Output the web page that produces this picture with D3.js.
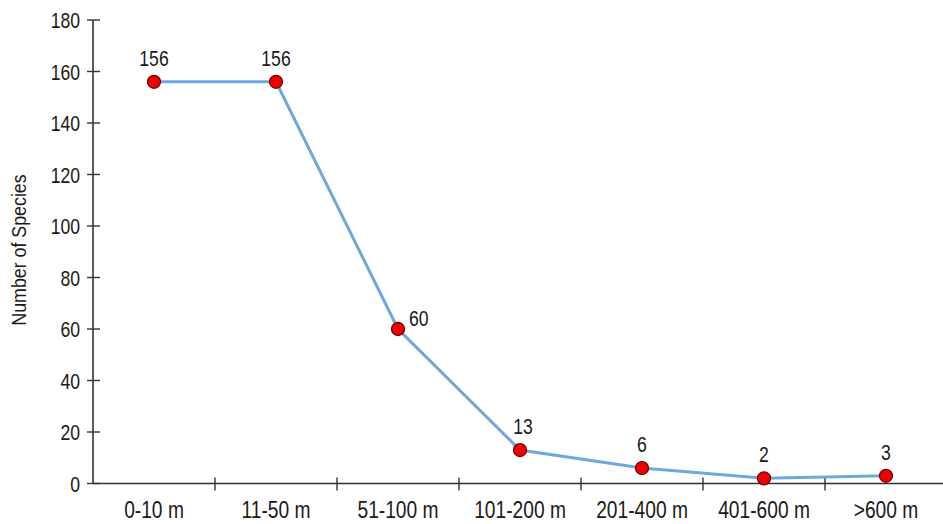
<!DOCTYPE html>
<html>
<head>
<meta charset="utf-8">
<script src="https://cdn.jsdelivr.net/npm/d3@7"></script>
<style>
  html, body { margin: 0; padding: 0; background: #fff; }
  svg { display: block; }
  text { font-family: Arial, "Liberation Sans", Helvetica, sans-serif; font-weight: normal; fill: #1a1a1a; }
</style>
</head>
<body>
<svg id="chart" width="943" height="524"></svg>
<script>
const categories = ["0-10 m", "11-50 m", "51-100 m", "101-200 m", "201-400 m", "401-600 m", ">600 m"];
const speciesCounts = [156, 156, 60, 13, 6, 2, 3];
const yTicks = [0, 20, 40, 60, 80, 100, 120, 140, 160, 180];
const yLabel = "Number of Species";

const W = 943, H = 524;
const svg = d3.select("#chart");

const x = d3.scaleBand().domain(categories).range([93, 947]).padding(0);
const y = d3.scaleLinear().domain([0, 180]).range([483.5, 20]);
const cx = d => x(d) + x.bandwidth() / 2;

// text drawn with a vertical stretch, as in the reference image
function stretchedText(g, tx, ty, str, anchor, size, sy) {
  return g.append("text")
    .attr("transform", `translate(${tx},${ty}) scale(1,${sy})`)
    .attr("text-anchor", anchor)
    .style("font-size", size + "px")
    .text(str);
}

const axisColor = "#333";

// Y axis
const gy = svg.append("g");
gy.append("line").attr("x1", 93).attr("x2", 93).attr("y1", y(180)).attr("y2", y(0))
  .attr("stroke", axisColor).attr("stroke-width", 1.6);
yTicks.forEach(t => {
  gy.append("line").attr("x1", 87).attr("x2", 100).attr("y1", y(t)).attr("y2", y(t))
    .attr("stroke", axisColor).attr("stroke-width", 1.4);
  stretchedText(gy, 80, y(t) + 8, String(t), "end", 17.6, 1.28);
});

// X axis
const gx = svg.append("g");
gx.append("line").attr("x1", 93).attr("x2", W).attr("y1", y(0)).attr("y2", y(0))
  .attr("stroke", axisColor).attr("stroke-width", 1.6);
categories.forEach((c, i) => {
  if (i > 0) {
    gx.append("line").attr("x1", x(c)).attr("x2", x(c)).attr("y1", y(0) - 6).attr("y2", y(0) + 7)
      .attr("stroke", axisColor).attr("stroke-width", 1.4);
  }
  stretchedText(gx, cx(c), 517.5, c, "middle", 19.2, 1.21);
});

// Y label
svg.append("text")
  .attr("transform", `translate(26,250) rotate(-90) scale(1,1.15)`)
  .attr("text-anchor", "middle")
  .style("font-size", "17.8px")
  .text(yLabel);

// Line
const data = categories.map((c, i) => ({ c, v: speciesCounts[i] }));
svg.append("path").datum(data)
  .attr("d", d3.line().x(d => cx(d.c)).y(d => y(d.v)))
  .attr("fill", "none")
  .attr("stroke", "#6fa8dc")
  .attr("stroke-width", 3);

// Points
svg.selectAll("circle.pt").data(data).join("circle")
  .attr("class", "pt")
  .attr("cx", d => cx(d.c)).attr("cy", d => y(d.v)).attr("r", 6.5)
  .attr("fill", "#f00000").attr("stroke", "#7a0000").attr("stroke-width", 1.3);

// Value labels
const gl = svg.append("g");
data.forEach((d, i) => {
  if (i === 2) {
    stretchedText(gl, cx(d.c) + 11, y(d.v) - 3, String(d.v), "start", 17.6, 1.28);
  } else {
    stretchedText(gl, cx(d.c) + (i === 3 ? 3 : 0), y(d.v) - 16, String(d.v), "middle", 17.6, 1.28);
  }
});
</script>
</body>
</html>
